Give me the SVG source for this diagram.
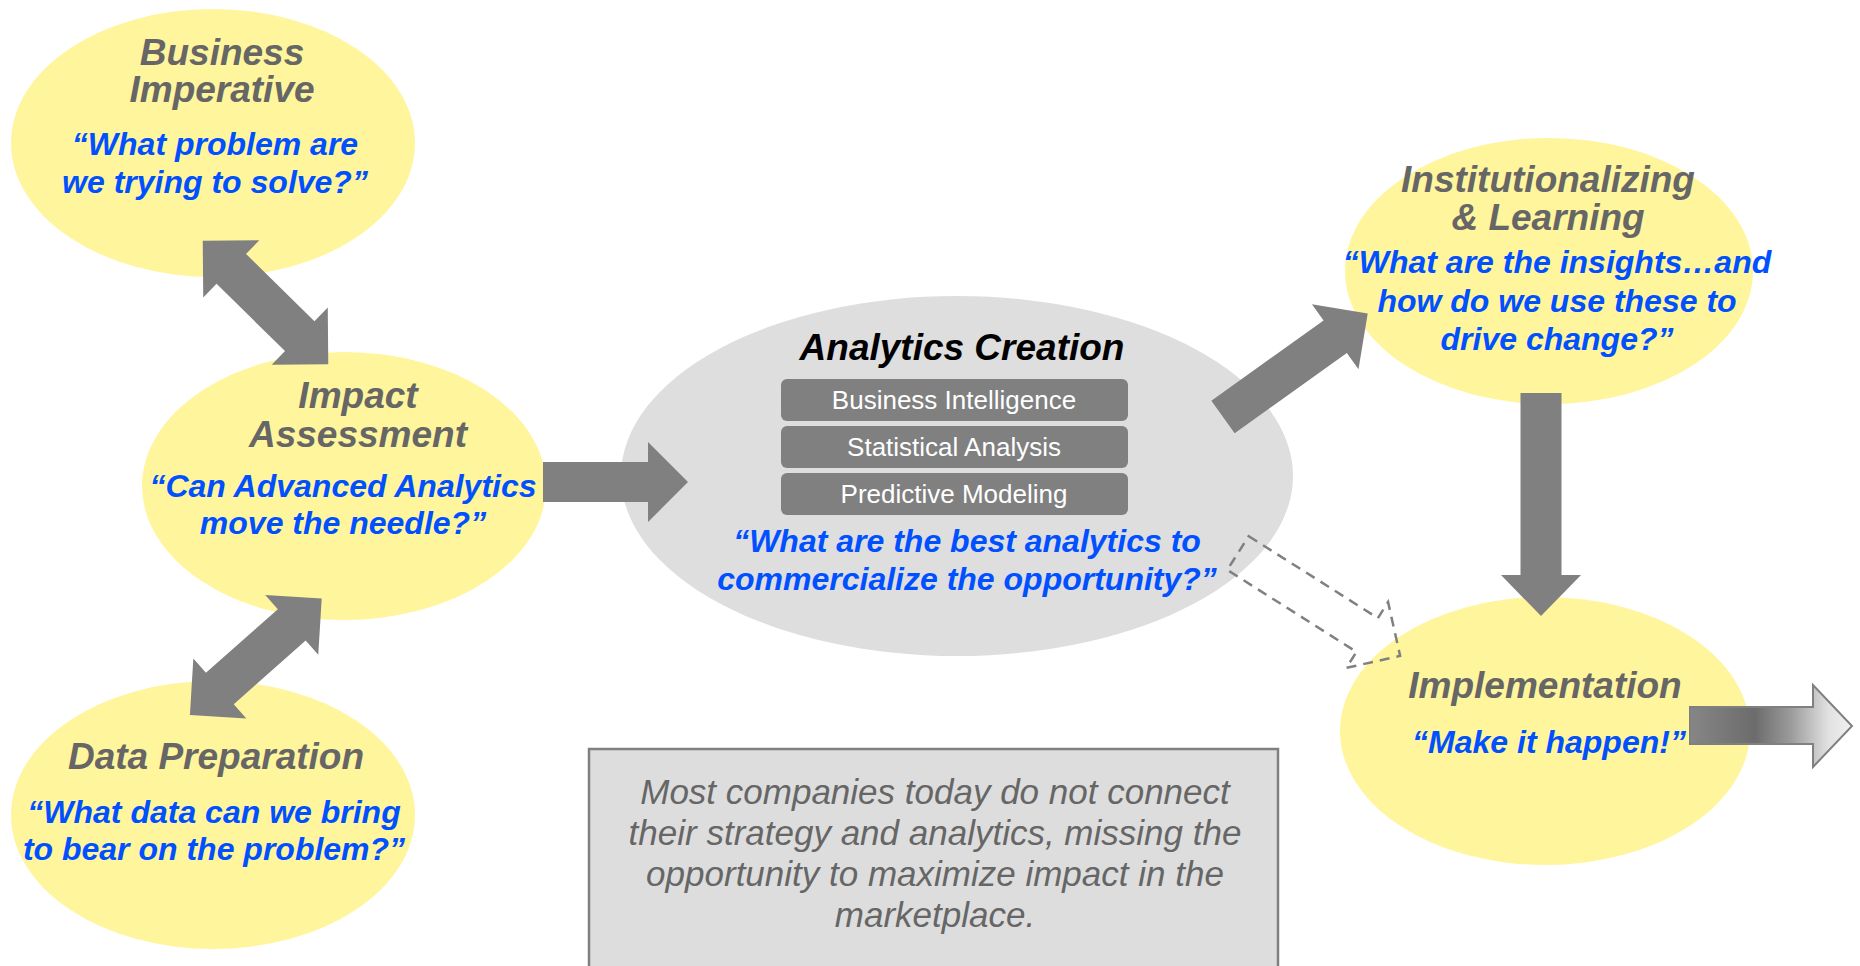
<svg xmlns="http://www.w3.org/2000/svg" width="1860" height="966" viewBox="0 0 1860 966">
  <defs>
    <style>
      text { font-family: "Liberation Sans", Arial, sans-serif; text-anchor: middle; }
      .bubble { fill: #FFF59C; }
      .title { font-size: 37px; font-weight: bold; font-style: italic; fill: #666666; }
      .quote { font-size: 32px; font-weight: bold; font-style: italic; fill: #0050FF; }
      .layer { fill: #808080; }
      .layer-label { font-size: 26px; fill: #FFFFFF; }
      .block { fill: #808080; }
      .dashed { fill: none; stroke: #808080; stroke-width: 2.5; stroke-dasharray: 10 7; }
      .note { font-size: 35px; font-style: italic; fill: #666666; }
    </style>
    <linearGradient id="fade" gradientUnits="userSpaceOnUse" x1="1690" y1="0" x2="1852" y2="0">
      <stop offset="0" stop-color="#868686"/>
      <stop offset="0.4" stop-color="#6c6c6c"/>
      <stop offset="0.62" stop-color="#9a9a9a"/>
      <stop offset="0.85" stop-color="#e0e0e0"/>
      <stop offset="1" stop-color="#f2f2f2"/>
    </linearGradient>
  </defs>

  <rect width="1860" height="966" fill="#FFFFFF"/>

  <!-- Business Imperative -->
  <g id="business-imperative">
    <ellipse class="bubble" cx="213" cy="143" rx="202" ry="134"/>
    <text class="title" x="222" y="65">Business</text>
    <text class="title" x="222" y="102">Imperative</text>
    <text class="quote" x="215" y="155">“What problem are</text>
    <text class="quote" x="215" y="193">we trying to solve?”</text>
  </g>

  <!-- Impact Assessment -->
  <g id="impact-assessment">
    <ellipse class="bubble" cx="344" cy="486" rx="202" ry="134"/>
    <text class="title" x="358" y="408">Impact</text>
    <text class="title" x="358" y="447">Assessment</text>
    <text class="quote" x="343" y="497">“Can Advanced Analytics</text>
    <text class="quote" x="343" y="534">move the needle?”</text>
  </g>

  <!-- Data Preparation -->
  <g id="data-preparation">
    <ellipse class="bubble" cx="213" cy="815" rx="202" ry="134"/>
    <text class="title" x="216" y="769">Data Preparation</text>
    <text class="quote" x="214" y="823">“What data can we bring</text>
    <text class="quote" x="214" y="860">to bear on the problem?”</text>
  </g>

  <!-- Analytics Creation -->
  <g id="analytics-creation">
    <ellipse cx="957" cy="476" rx="336" ry="180" fill="#DEDEDE"/>
    <text x="962" y="360" font-size="37" font-weight="bold" font-style="italic" fill="#000000">Analytics Creation</text>
    <rect class="layer" x="781" y="379" width="347" height="42" rx="6"/>
    <rect class="layer" x="781" y="426" width="347" height="42" rx="6"/>
    <rect class="layer" x="781" y="473" width="347" height="42" rx="6"/>
    <text class="layer-label" x="954" y="409">Business Intelligence</text>
    <text class="layer-label" x="954" y="456">Statistical Analysis</text>
    <text class="layer-label" x="954" y="503">Predictive Modeling</text>
    <text class="quote" x="967" y="552">“What are the best analytics to</text>
    <text class="quote" x="967" y="589.5">commercialize the opportunity?”</text>
  </g>

  <!-- Institutionalizing & Learning -->
  <g id="institutionalizing-learning">
    <ellipse class="bubble" cx="1549" cy="271" rx="204" ry="133"/>
    <text class="title" x="1548" y="192">Institutionalizing</text>
    <text class="title" x="1548" y="230">&amp; Learning</text>
    <text class="quote" x="1557" y="273">“What are the insights…and</text>
    <text class="quote" x="1557" y="311.5">how do we use these to</text>
    <text class="quote" x="1557" y="350">drive change?”</text>
  </g>

  <!-- Implementation -->
  <g id="implementation">
    <ellipse class="bubble" cx="1545" cy="731" rx="205" ry="134"/>
    <text class="title" x="1545" y="698">Implementation</text>
    <text class="quote" x="1549" y="753">“Make it happen!”</text>
  </g>

  <!-- Note box -->
  <g id="note">
    <rect x="589" y="749" width="689" height="240" fill="#DDDDDD" stroke="#808080" stroke-width="2.5"/>
    <text class="note" x="935" y="804">Most companies today do not connect</text>
    <text class="note" x="935" y="845">their strategy and analytics, missing the</text>
    <text class="note" x="935" y="886">opportunity to maximize impact in the</text>
    <text class="note" x="935" y="927">marketplace.</text>
  </g>

  <!-- Connectors -->
  <g id="connectors">
    <!-- Business Imperative <-> Impact Assessment -->
    <path class="block" transform="translate(265.5,302.5) rotate(44.5)"
          d="M-88,0 L-48,-40 L-48,-21 L48,-21 L48,-40 L88,0 L48,40 L48,21 L-48,21 L-48,40 Z"/>
    <!-- Impact Assessment <-> Data Preparation -->
    <path class="block" transform="translate(255.8,656.7) rotate(-41.5)"
          d="M-88,0 L-48,-40 L-48,-21 L48,-21 L48,-40 L88,0 L48,40 L48,21 L-48,21 L-48,40 Z"/>
    <!-- Impact Assessment -> Analytics Creation -->
    <path class="block" transform="translate(543,482)"
          d="M0,-20 L105,-20 L105,-40 L145,0 L105,40 L105,20 L0,20 Z"/>
    <!-- Analytics Creation -> Institutionalizing & Learning -->
    <path class="block" transform="translate(1223,417) rotate(-35.6)"
          d="M0,-20 L138,-20 L138,-40 L178,0 L138,40 L138,20 L0,20 Z"/>
    <!-- Institutionalizing & Learning -> Implementation -->
    <path class="block" transform="translate(1541,393) rotate(90)"
          d="M0,-20.5 L182,-20.5 L182,-40 L223,0 L182,40 L182,20.5 L0,20.5 Z"/>
    <!-- Analytics Creation -> Implementation (dashed) -->
    <path class="dashed" transform="translate(1238,553) rotate(32.4)"
          d="M0,-20 L153,-20 L153,-39 L192,0 L153,39 L153,20 L0,20 Z"/>
    <!-- Implementation -> onward -->
    <path d="M1690,707 L1813,707 L1813,685 L1852,726 L1813,767 L1813,744 L1690,744 Z"
          fill="url(#fade)" stroke="#808080" stroke-width="2"/>
  </g>
</svg>
